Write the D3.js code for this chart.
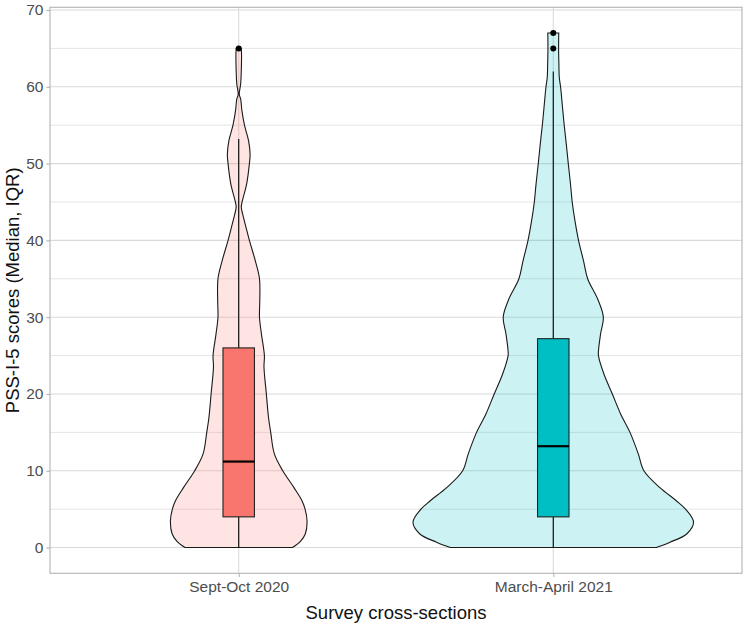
<!DOCTYPE html>
<html>
<head>
<meta charset="utf-8">
<script src="https://cdn.jsdelivr.net/npm/d3@7"></script>
<style>
  html, body { margin: 0; padding: 0; background: #ffffff; }
  svg { display: block; font-family: "Liberation Sans", Arial, sans-serif; }
</style>
</head>
<body>
<svg id="chart" width="747" height="623"></svg>
<script>
// ---------------- data ----------------
const categories = ["Sept-Oct 2020", "March-April 2021"];

// violin outlines: score values and relative density (1 = widest violin)
const sepValues  = [0, 0.8, 1.8, 3.5, 5, 6.1, 7.8, 10, 12.2, 15, 17, 20, 23.5, 25, 27.8, 30, 32.1, 35, 37.3, 40, 41.7, 43.3, 44.3, 45, 47.4, 50, 51.2, 53, 55, 57, 58.4, 59, 60.4, 62, 64.2, 65];
const sepDensity = [0.383, 0.44, 0.475, 0.487, 0.473, 0.451, 0.394, 0.314, 0.254, 0.228, 0.212, 0.197, 0.180, 0.183, 0.162, 0.148, 0.150, 0.148, 0.119, 0.076, 0.052, 0.030, 0.018, 0.024, 0.057, 0.076, 0.081, 0.070, 0.041, 0.022, 0.014, 0.004, 0.014, 0.018, 0.020, 0.018];

const marValues  = [0, 0.7, 1.8, 3.3, 5, 6.1, 7.8, 10, 12.2, 15, 17.4, 20, 22.6, 25, 25.6, 27.8, 30, 32.3, 35, 37.3, 40, 42.5, 45, 47.3, 50, 52.5, 55, 57.3, 60, 61.2, 63, 65, 67];
const marDensity = [0.734, 0.832, 0.953, 1.0, 0.943, 0.877, 0.760, 0.646, 0.606, 0.547, 0.480, 0.421, 0.361, 0.322, 0.322, 0.337, 0.357, 0.318, 0.245, 0.216, 0.180, 0.155, 0.135, 0.123, 0.107, 0.093, 0.078, 0.066, 0.052, 0.043, 0.040, 0.038, 0.039];

// box plot statistics
const boxLow     = [0, 0];
const boxQ1      = [4, 4];
const boxMedian  = [11.2, 13.2];
const boxQ3      = [26, 27.2];
const boxHigh    = [53.2, 62];
const sepOutliers = [65];
const marOutliers = [65, 67];

const yMajorTicks = [0, 10, 20, 30, 40, 50, 60, 70];
const yMinorTicks = [5, 15, 25, 35, 45, 55, 65];

const violinColors = ["#F8766D", "#00BFC4"];
const xTitle = "Survey cross-sections";
const yTitle = "PSS-I-5 scores (Median, IQR)";

// ---------------- layout ----------------
const svg = d3.select("#chart");
const panel = { left: 50, right: 742, top: 7.3, bottom: 573.3 };

const x = d3.scalePoint().domain(categories).range([panel.left, panel.right]).padding(0.6);
const step = x.step();
const y = d3.scaleLinear().domain([-3.35, 70.35]).range([panel.bottom, panel.top]);
const halfW = d3.scaleLinear().domain([0, 1]).range([0, step * 0.446]);

// grid
const grid = svg.append("g");
grid.selectAll(".minor").data(yMinorTicks).join("line")
  .attr("x1", panel.left).attr("x2", panel.right)
  .attr("y1", d => y(d)).attr("y2", d => y(d))
  .attr("stroke", "#dedede").attr("stroke-width", 0.8);
grid.selectAll(".major").data(yMajorTicks).join("line")
  .attr("x1", panel.left).attr("x2", panel.right)
  .attr("y1", d => y(d)).attr("y2", d => y(d))
  .attr("stroke", "#dadada").attr("stroke-width", 1.1);
grid.selectAll(".vmajor").data(categories).join("line")
  .attr("x1", d => x(d)).attr("x2", d => x(d))
  .attr("y1", panel.top).attr("y2", panel.bottom)
  .attr("stroke", "#dadada").attr("stroke-width", 1.1);

// violins
const violins = [
  { cat: categories[0], values: sepValues, dens: sepDensity, color: violinColors[0] },
  { cat: categories[1], values: marValues, dens: marDensity, color: violinColors[1] }
];
violins.forEach(v => {
  const pts = v.values.map((val, i) => ({ val, d: v.dens[i] }));
  const cx = x(v.cat);
  const area = d3.area()
    .y(p => y(p.val))
    .x0(p => cx - halfW(p.d))
    .x1(p => cx + halfW(p.d))
    .curve(d3.curveCatmullRom.alpha(0.5));
  svg.append("path")
    .attr("d", area(pts))
    .attr("fill", v.color).attr("fill-opacity", 0.2)
    .attr("stroke", "#1a1a1a").attr("stroke-width", 1.1);
});

// box plots
const boxW = step * 0.1;
categories.forEach((c, i) => {
  const cx = x(c);
  const g = svg.append("g");
  g.append("line").attr("x1", cx).attr("x2", cx)
    .attr("y1", y(boxQ3[i])).attr("y2", y(boxHigh[i]))
    .attr("stroke", "#000").attr("stroke-width", 1.1);
  g.append("line").attr("x1", cx).attr("x2", cx)
    .attr("y1", y(boxQ1[i])).attr("y2", y(boxLow[i]))
    .attr("stroke", "#000").attr("stroke-width", 1.1);
  g.append("rect")
    .attr("x", cx - boxW / 2).attr("width", boxW)
    .attr("y", y(boxQ3[i])).attr("height", y(boxQ1[i]) - y(boxQ3[i]))
    .attr("fill", violinColors[i]).attr("stroke", "#222").attr("stroke-width", 1.1);
  g.append("line")
    .attr("x1", cx - boxW / 2).attr("x2", cx + boxW / 2)
    .attr("y1", y(boxMedian[i])).attr("y2", y(boxMedian[i]))
    .attr("stroke", "#000").attr("stroke-width", 2.2);
});

// outliers
[sepOutliers, marOutliers].forEach((arr, i) => {
  svg.append("g").selectAll("circle").data(arr).join("circle")
    .attr("cx", x(categories[i])).attr("cy", d => y(d)).attr("r", 3)
    .attr("fill", "#000");
});

// panel border
svg.append("rect")
  .attr("x", panel.left).attr("y", panel.top)
  .attr("width", panel.right - panel.left).attr("height", panel.bottom - panel.top)
  .attr("fill", "none").attr("stroke", "#b3b3b3").attr("stroke-width", 1.1);

// y axis
const yAxis = d3.axisLeft(y).tickValues(yMajorTicks).tickSize(3.6).tickPadding(3);
const gy = svg.append("g").attr("transform", `translate(${panel.left},0)`).call(yAxis);
gy.select(".domain").remove();
gy.selectAll(".tick line").attr("stroke", "#b3b3b3").attr("stroke-width", 1.1);
gy.selectAll(".tick text").attr("fill", "#4d4d4d").style("font-size", "15.5px")
  .style("font-family", "'Liberation Sans', Arial, sans-serif");

// x axis
const xAxis = d3.axisBottom(x).tickSize(3.6).tickPadding(4);
const gx = svg.append("g").attr("transform", `translate(0,${panel.bottom})`).call(xAxis);
gx.select(".domain").remove();
gx.selectAll(".tick line").attr("stroke", "#b3b3b3").attr("stroke-width", 1.1);
gx.selectAll(".tick text").attr("fill", "#4d4d4d").style("font-size", "15.5px")
  .style("font-family", "'Liberation Sans', Arial, sans-serif");

// titles
svg.append("text")
  .attr("x", (panel.left + panel.right) / 2).attr("y", 619)
  .attr("text-anchor", "middle").attr("fill", "#111")
  .style("font-size", "18.5px").text(xTitle);
svg.append("text")
  .attr("transform", `translate(19,${(panel.top + panel.bottom) / 2}) rotate(-90)`)
  .attr("text-anchor", "middle").attr("fill", "#111")
  .style("font-size", "18.5px").text(yTitle);
</script>
</body>
</html>
